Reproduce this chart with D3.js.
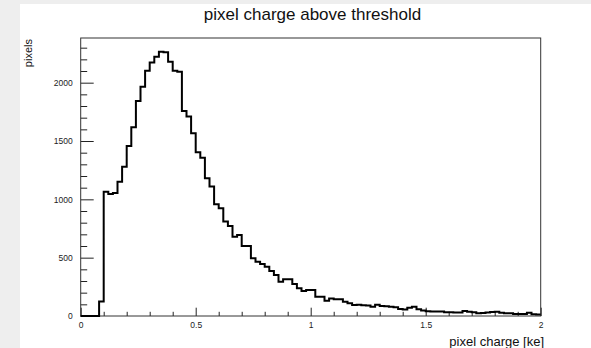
<!DOCTYPE html>
<html>
<head>
<meta charset="utf-8">
<script src="https://cdn.jsdelivr.net/npm/d3@7"></script>
<style>
  html, body { margin: 0; padding: 0; background: #eeeeee; }
  svg { display: block; font-family: "Liberation Sans", Arial, sans-serif; }
</style>
</head>
<body>
<div id="chart"></div>
<script>
// histogram: 100 bins over [0, 2] ke
const xRange = [0, 2];
const counts = [
    0, 0, 0, 0, 125, 1066, 1046, 1055, 1151, 1280,
    1457, 1617, 1843, 1966, 2103, 2174, 2223, 2266, 2260, 2180,
    2103, 2094, 1758, 1711, 1566, 1403, 1357, 1180, 1109, 957,
    923, 809, 771, 680, 694, 600, 600, 494, 466, 446,
    423, 385, 351, 294, 314, 314, 274, 237, 214, 223,
    223, 166, 166, 131, 151, 143, 143, 123, 109, 94,
    97, 92, 91, 80, 97, 86, 84, 80, 75, 60,
    55, 70, 80, 57, 48, 40, 38, 38, 38, 33,
    32, 31, 31, 43, 37, 33, 23, 26, 29, 35,
    37, 28, 24, 23, 18, 17, 17, 28, 14, 13
];
const xMajor = [0, 0.5, 1, 1.5, 2];
const xMinor = [0.1, 0.2, 0.3, 0.4, 0.6, 0.7, 0.8, 0.9, 1.1, 1.2, 1.3, 1.4, 1.6, 1.7, 1.8, 1.9];
const yMajor = [0, 500, 1000, 1500, 2000];
const yMinor = [100, 200, 300, 400, 600, 700, 800, 900, 1100, 1200, 1300, 1400,
    1600, 1700, 1800, 1900, 2100, 2200, 2300];
const yMax = 2383;

const W = 591, H = 348;
const frame = { left: 80.7, right: 540.7, top: 38, bottom: 316 };

const svg = d3.select('#chart').append('svg')
    .attr('width', W)
    .attr('height', H);

// white canvas area
svg.append('rect')
    .attr('x', 20).attr('y', 4)
    .attr('width', W - 20).attr('height', H - 4)
    .attr('fill', '#ffffff');

const x = d3.scaleLinear().domain(xRange).range([frame.left, frame.right]);
const y = d3.scaleLinear().domain([0, yMax]).range([frame.bottom, frame.top]);

const nb = counts.length;
const bw = (xRange[1] - xRange[0]) / nb;

// step outline
let d = `M${x(xRange[0])},${y(counts[0])}`;
counts.forEach((c, i) => {
    if (i > 0) d += `V${y(c)}`;
    d += `H${x(xRange[0] + (i + 1) * bw)}`;
});

// axes
svg.append('g')
    .attr('transform', `translate(${frame.left},0)`)
    .call(d3.axisLeft(y).tickValues(yMajor).tickSize(-13).tickPadding(8)
        .tickFormat(d3.format('d')));
svg.append('g')
    .attr('transform', `translate(${frame.left},0)`)
    .call(d3.axisLeft(y).tickValues(yMinor).tickSize(-6.5).tickFormat(''));

svg.append('g')
    .attr('transform', `translate(0,${frame.bottom})`)
    .call(d3.axisBottom(x).tickValues(xMajor).tickSize(-8.3).tickPadding(6)
        .tickFormat(d => d3.format('')(d)));
svg.append('g')
    .attr('transform', `translate(0,${frame.bottom})`)
    .call(d3.axisBottom(x).tickValues(xMinor).tickSize(-4.2).tickFormat(''));

svg.selectAll('.domain').remove();
svg.selectAll('.tick line').attr('stroke', '#222').attr('stroke-width', 1);
svg.selectAll('.tick text')
    .attr('fill', '#222')
    .style('font-size', '8.5px')
    .style('font-family', '"Liberation Sans", Arial, sans-serif');

// frame
svg.append('rect')
    .attr('x', frame.left)
    .attr('y', frame.top)
    .attr('width', frame.right - frame.left)
    .attr('height', frame.bottom - frame.top)
    .attr('fill', 'none')
    .attr('stroke', '#333')
    .attr('stroke-width', 1);

svg.append('path')
    .attr('d', d)
    .attr('fill', 'none')
    .attr('stroke', '#000')
    .attr('stroke-width', 2)
    .attr('stroke-linejoin', 'miter');

// titles
svg.append('text')
    .attr('x', 312.5)
    .attr('y', 20)
    .attr('text-anchor', 'middle')
    .style('font-size', '17px')
    .attr('fill', '#111')
    .text('pixel charge above threshold');

svg.append('text')
    .attr('transform', `translate(32,${frame.top + 1}) rotate(-90)`)
    .attr('text-anchor', 'end')
    .style('font-size', '11px')
    .attr('fill', '#111')
    .text('pixels');

svg.append('text')
    .attr('x', 544)
    .attr('y', 346)
    .attr('text-anchor', 'end')
    .style('font-size', '13px')
    .attr('fill', '#111')
    .text('pixel charge [ke]');
</script>
</body>
</html>
